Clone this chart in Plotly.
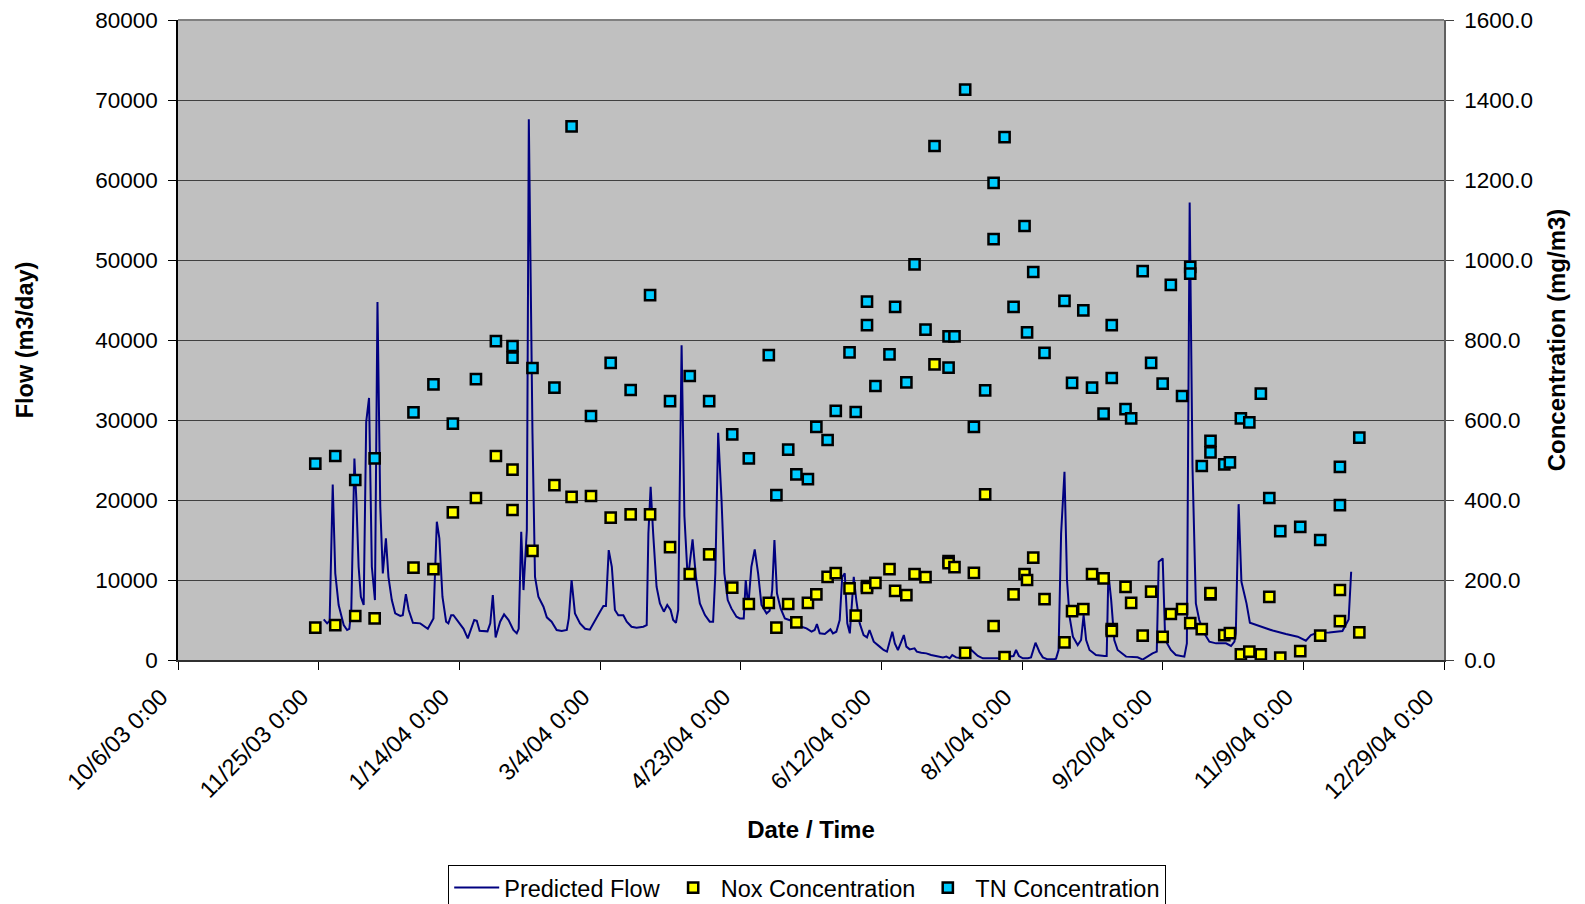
import pandas as pd
import plotly.graph_objects as go

BASE = pd.Timestamp("2003-10-06")

# Predicted flow (m3/day); position given as days after 10/6/03
flow_day = [51.8, 53.0, 53.9, 55.0, 55.9, 57.1, 58.9, 60.1, 60.9, 61.6, 62.7, 63.4, 64.2, 65.0, 66.0,
            66.9, 67.9, 68.9, 70.0, 70.9, 71.9, 72.8, 73.9, 74.8, 76.0, 77.2, 79.0, 79.9, 81.0, 82.0,
            83.5, 86.1, 88.8, 90.8, 92.0, 92.9, 94.0, 95.3, 96.1, 97.1, 97.9, 99.7, 101.5, 103.0, 104.2,
            105.3, 106.2, 107.2, 110.0, 111.0, 111.9, 112.9, 114.5, 115.9, 117.5, 119.2, 120.4, 121.1,
            122.0, 122.8, 124.0, 124.7, 126.0, 126.9, 128.1, 129.9, 131.1, 132.8, 134.6, 136.4, 138.2,
            138.9, 139.9, 141.1, 142.9, 144.7, 146.4, 148.2, 150.0, 151.2, 152.1, 153.1, 154.2, 155.3,
            156.5, 158.3, 159.5, 161.2, 163.0, 165.4, 166.6, 167.2, 168.0, 168.9, 170.1, 171.3, 172.7,
            173.9, 175.1, 176.0, 177.0, 177.8, 179.0, 180.0, 181.2, 182.9, 184.1, 185.5, 187.3, 189.0,
            190.2, 191.0, 192.0, 193.2, 194.2, 195.4, 196.7, 198.5, 199.7, 201.1, 201.8, 202.7, 203.8,
            205.0, 206.2, 207.4, 209.2, 210.3, 211.2, 212.0, 212.9, 214.2, 215.7, 218.0, 219.8, 221.6,
            223.4, 225.2, 226.3, 227.1, 228.1, 229.9, 231.0, 231.9, 232.8, 234.0, 235.2, 236.1, 237.0,
            237.9, 238.8, 239.6, 240.2, 241.1, 242.3, 243.7, 244.9, 245.8, 247.3, 249.4, 250.8, 252.0,
            252.9, 253.9, 254.8, 255.9, 257.1, 258.0, 258.9, 260.1, 261.8, 262.6, 264.2, 266.0, 267.7,
            269.5, 271.9, 273.1, 274.3, 275.2, 276.6, 278.4, 280.2, 282.0, 283.1, 284.3, 286.1, 287.8,
            289.6, 291.4, 293.2, 295.0, 297.0, 297.9, 298.9, 300.3, 302.1, 303.2, 304.8, 306.2, 307.4,
            309.1, 311.5, 312.1, 313.0, 313.9, 315.1, 316.0, 316.9, 318.1, 319.8, 321.0, 321.9, 322.8,
            324.0, 326.3, 329.3, 330.1, 330.7, 331.7, 332.8, 334.0, 337.0, 341.1, 342.9, 346.4, 347.9,
            348.6, 350.0, 350.9, 352.9, 354.7, 357.7, 358.6, 359.6, 360.6, 361.8, 363.0, 364.8, 366.6,
            369.0, 372.5, 374.3, 375.5, 376.0, 377.0, 378.0, 379.8, 381.0, 384.3, 389.1, 393.8, 398.0,
            400.9, 402.7, 405.0, 409.2, 413.9, 414.9, 416.1, 417.0]
flow_m3 = [5080, 4580, 4900, 21940, 10830, 6870, 4370, 3750, 3900, 6245, 25190, 19980, 11650, 7910, 6870,
           29770, 32760, 11650, 7490, 44750, 19150, 10830, 15200, 10400, 7490, 5830, 5500, 5600, 8240, 6245,
           4660, 4580, 3900, 5205, 17280, 15200, 7910, 4790, 4580, 5600, 5600, 4790, 3900, 2710, 3900,
           5000, 4900, 3650, 3580, 4580, 8120, 2830, 4790, 5700, 5000, 3750, 3330, 3900,
           16030, 8740, 16240, 67600, 28300, 10400, 7910, 6660, 5330, 4790, 3750, 3620, 3750,
           5205, 9990, 5830, 4580, 3900, 3790, 5000, 6040, 6740, 6740, 13740, 11650, 6245,
           5600, 5600, 4790, 4160, 4040, 4160, 4370, 15820, 21650, 15820, 9160, 7080, 6040,
           6870, 6245, 5000, 4660, 6245, 39340, 18000, 10000, 15070, 10400, 7080, 5620, 4790,
           4790, 10830, 28390, 19980, 10830, 7490, 6450, 5410, 5200, 5200, 9990, 6660, 11650,
           13820, 10830, 6870, 5830, 6160, 8740, 14990, 8330, 6450, 5200, 4910, 4370, 4160,
           3950, 3540, 3750, 4500, 3330, 3250, 3540, 3830, 3330, 3540, 5000, 10400, 10830,
           4580, 3330, 7490, 10400, 7490, 4580, 3120, 2830, 3750, 2290, 1670, 1250, 1040,
           2290, 3540, 2080, 1250, 2290, 3120, 1670, 1330, 1460, 1040, 920, 830, 620,
           500, 330, 420, 210, 620, 330, 210, 420, 1250, 830, 500, 210, 210,
           290, 210, 80, 420, 500, 1250, 500, 210, 210, 330, 2160, 1000, 330,
           80, 100, 170, 1250, 15820, 23520, 9990, 5410, 2910, 1870, 2500, 5620, 2500,
           1250, 620, 500, 500, 10830, 7490, 2500, 1250, 420, 330, 50, 830, 1040,
           12280, 12700, 2500, 1250, 620, 420, 2080, 57200, 24150, 7080, 5000, 3330, 2290,
           2080, 2080, 1750, 2290, 3330, 19480, 9780, 7080, 4660, 4250, 3680, 3250, 2910,
           2410, 3120, 3400, 3440, 3620, 4370, 5080, 11030]

# NOx concentration (mg/m3)
nox_day = [48.8, 55.9, 63.0, 69.9, 83.7, 90.8, 97.7, 105.9, 113.0, 118.9, 118.9, 126.0, 133.8, 139.9,
           146.8, 153.8, 160.9, 167.8, 174.9, 181.9, 188.8, 197.0, 202.9, 210.0, 212.7, 216.9, 219.8,
           223.9, 226.9, 230.9, 233.8, 238.7, 240.9, 244.9, 244.9, 247.9, 252.9, 254.9, 258.9, 261.8,
           265.7, 268.9, 273.9, 273.9, 276.0, 279.8, 282.9, 286.9, 289.9, 293.8, 297.0, 300.9, 301.8,
           304.0, 308.0, 315.1, 317.8, 321.8, 324.9, 329.0, 331.9, 331.9, 336.8, 338.8, 342.9, 345.9,
           350.0, 352.9, 356.9, 359.8, 363.9, 367.0, 367.0, 371.9, 373.9, 377.8, 380.8, 384.9, 387.9,
           391.8, 398.9, 406.0, 413.0, 413.0, 419.9]
nox_conc = [81, 87, 110, 104, 231, 227, 369, 405, 510, 476, 375, 273, 437, 408,
            410, 356, 364, 364, 282, 215, 264, 181, 140, 143, 81, 140, 94,
            143, 164, 208, 217, 179, 111, 185, 180, 193, 227, 173, 162, 215,
            207, 739, 247, 242, 232, 18, 218, 414, 85, 7, 164, 215, 200,
            256, 152, 44, 122, 127, 215, 204, 77, 73, 183, 143, 61, 171,
            58, 115, 127, 92, 77, 164, 167, 62, 67, 14, 21, 14, 158,
            6, 22, 61, 97, 175, 69]

# TN concentration (mg/m3)
tn_day = [48.8, 55.9, 63.0, 69.9, 83.7, 90.8, 97.7, 105.9, 113.0, 118.9, 118.9, 126.0, 133.8, 139.9,
          146.8, 153.8, 160.9, 167.8, 174.9, 181.9, 188.8, 197.0, 202.9, 210.0, 212.7, 216.9, 219.8,
          223.9, 226.9, 230.9, 233.8, 238.7, 240.9, 244.9, 244.9, 247.9, 252.9, 254.9, 258.9, 261.8,
          265.7, 268.9, 273.9, 273.9, 276.0, 279.8, 282.9, 286.9, 289.9, 289.9, 293.8, 297.0, 300.9,
          301.8, 304.0, 308.0, 315.1, 317.8, 321.8, 324.9, 329.0, 331.9, 331.9, 336.8, 338.8, 342.9,
          345.9, 350.0, 352.9, 356.9, 359.8, 359.8, 363.9, 367.0, 367.0, 371.9, 373.9, 377.8, 380.8,
          384.9, 387.9, 391.8, 398.9, 406.0, 413.0, 413.0, 419.9]
tn_conc = [491, 510, 450, 504, 619, 689, 591, 702, 797, 785, 756, 730, 681, 1334,
           610, 743, 675, 912, 647, 710, 647, 564, 504, 762, 412, 526, 464,
           452, 583, 550, 623, 769, 620, 896, 837, 685, 764, 883, 694, 989,
           826, 1285, 809, 731, 809, 1426, 583, 674, 1193, 1052, 1307, 883, 1085,
           819, 970, 768, 898, 693, 874, 681, 616, 837, 705, 627, 604, 972,
           743, 691, 938, 660, 983, 966, 485, 548, 519, 489, 494, 604, 594,
           666, 405, 322, 333, 300, 483, 387, 556]

x_tick_labels = ["10/6/03 0:00", "11/25/03 0:00", "1/14/04 0:00", "3/4/04 0:00", "4/23/04 0:00",
                 "6/12/04 0:00", "8/1/04 0:00", "9/20/04 0:00", "11/9/04 0:00", "12/29/04 0:00"]


def to_dates(days):
    return [BASE + pd.Timedelta(days=d) for d in days]


tick_vals = list(pd.to_datetime(x_tick_labels, format="%m/%d/%y %H:%M"))

FONT = "Arial, 'Liberation Sans', sans-serif"

fig = go.Figure()
fig.add_trace(go.Scatter(
    x=to_dates(flow_day), y=flow_m3, mode="lines", name="Predicted Flow",
    line=dict(color="#000080", width=2), yaxis="y"))
fig.add_trace(go.Scatter(
    x=to_dates(nox_day), y=nox_conc, mode="markers", name="Nox Concentration",
    marker=dict(symbol="square", size=10.2, color="#FFFF00", line=dict(color="black", width=2.5)),
    yaxis="y2"))
fig.add_trace(go.Scatter(
    x=to_dates(tn_day), y=tn_conc, mode="markers", name="TN Concentration",
    marker=dict(symbol="square", size=10.2, color="#00CCFF", line=dict(color="black", width=2.5)),
    yaxis="y2"))

# the page body adds an 8px offset, so the figure is 8px smaller than the window
fig.update_layout(
    width=1577, height=896,
    margin=dict(l=170, r=141, t=12, b=244, autoexpand=False),
    paper_bgcolor="white", plot_bgcolor="#C0C0C0",
    font=dict(family=FONT, size=22.5, color="black"),
    showlegend=True,
    legend=dict(orientation="h", x=0.497, xanchor="center", y=-0.320, yanchor="top",
                bgcolor="white", bordercolor="black", borderwidth=1, itemwidth=45,
                font=dict(family=FONT, size=23.5, color="black")),
    xaxis=dict(
        range=[tick_vals[0], tick_vals[-1]], tickmode="array", tickvals=tick_vals, ticktext=x_tick_labels,
        tickangle=-45, ticks="outside", ticklen=8, tickcolor="black", showgrid=False, zeroline=False,
        tickfont=dict(size=23.5), ticklabelstandoff=4, ticklabelshift=-17, automargin=False,
        ticklabeloverflow="allow",
        showline=True, linecolor="#303030", linewidth=2,
        title=dict(text="<b>Date / Time</b>", standoff=18, font=dict(family=FONT, size=24))),
    yaxis=dict(
        range=[0, 80000], dtick=10000, tickformat="d", ticks="outside", ticklen=8, tickcolor="black",
        showgrid=True, gridcolor="#404040", gridwidth=1, zeroline=False, automargin=False,
        ticklabelstandoff=6, ticklabeloverflow="allow",
        showline=True, linecolor="black", linewidth=1.5,
        title=dict(text="<b>Flow (m3/day)</b>", standoff=55, font=dict(family=FONT, size=23.5))),
    yaxis2=dict(
        range=[0, 1600], dtick=200, tickformat=".1f", overlaying="y", side="right",
        ticks="outside", ticklen=8, tickcolor="#404040", showgrid=False, zeroline=False,
        automargin=False, ticklabelstandoff=6, ticklabeloverflow="allow",
        showline=True, linecolor="#606060", linewidth=1.5,
        title=dict(text="<b>Concentration (mg/m3)</b>", standoff=16, font=dict(family=FONT, size=24))),
)
# grey top border of plot area
fig.add_shape(type="line", xref="paper", yref="paper", x0=0, x1=1, y0=1, y1=1,
              line=dict(color="#808080", width=2))

fig.write_html("out.html")
